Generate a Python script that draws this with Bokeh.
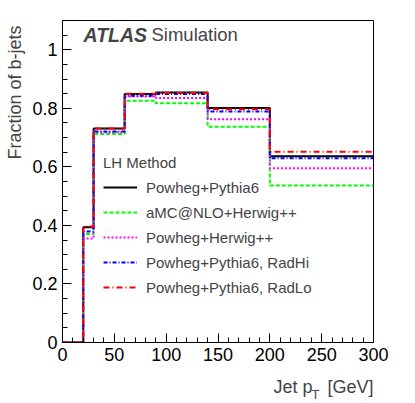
import math
from bokeh.plotting import figure
from bokeh.models import (Range1d, SingleIntervalTicker, CustomJSTickFormatter, Label,
                          Legend, LegendItem, ColumnDataSource)
from bokeh.embed import file_html
from bokeh.resources import INLINE

# ---- data ----
bin_edges = [0, 20, 30, 60, 90, 140, 200, 300]
powheg_pythia6 = [0.0, 0.394, 0.731, 0.849, 0.854, 0.801, 0.636]
amcnlo_herwig = [0.0, 0.371, 0.712, 0.826, 0.817, 0.737, 0.536]
powheg_herwig = [0.0, 0.355, 0.718, 0.840, 0.835, 0.763, 0.595]
powheg_radhi = [0.0, 0.379, 0.721, 0.843, 0.849, 0.789, 0.629]
powheg_radlo = [0.0, 0.396, 0.731, 0.850, 0.852, 0.797, 0.652]
series_names = ["Powheg+Pythia6", "aMC@NLO+Herwig++", "Powheg+Herwig++",
                "Powheg+Pythia6, RadHi", "Powheg+Pythia6, RadLo"]

FONT = "Liberation Sans"

p = figure(width=415, height=403, output_backend="svg", toolbar_location=None,
           x_range=Range1d(0, 300), y_range=Range1d(0, 1.1),
           min_border_left=62, min_border_right=42, min_border_top=20, min_border_bottom=61)
p.xgrid.visible = False
p.ygrid.visible = False
p.outline_line_color = "black"
p.outline_line_width = 1
p.background_fill_color = "white"
p.border_fill_color = "white"

p.xaxis.ticker = SingleIntervalTicker(interval=50, num_minor_ticks=5)
p.yaxis.ticker = SingleIntervalTicker(interval=0.2, num_minor_ticks=4)
p.yaxis.formatter = CustomJSTickFormatter(code="return (Math.round(tick*10)/10).toString();")
for ax in (p.xaxis, p.yaxis):
    ax.major_tick_in = 9
    ax.major_tick_out = 0
    ax.minor_tick_in = 5
    ax.minor_tick_out = 0
    ax.axis_line_color = "black"
    ax.major_tick_line_color = "black"
    ax.minor_tick_line_color = "black"
    ax.major_label_text_font = FONT
    ax.major_label_text_font_size = "18px"
    ax.major_label_text_color = "black"
    ax.major_label_standoff = 5

styles = [
    ("black", None),
    ("#00ff00", "4 2"),
    ("#ff00ff", "2 2"),
    ("#0000ff", "4 2 1 2"),
    ("#ff0000", "6 3 1 3"),
]
all_series = [powheg_pythia6, amcnlo_herwig, powheg_herwig, powheg_radhi, powheg_radlo]
items = []
for name, vals, (col, dash) in zip(series_names, all_series, styles):
    src = ColumnDataSource(dict(x=bin_edges, y=vals + [vals[-1]]))
    kw = dict(line_color=col, line_width=2)
    if dash:
        kw["line_dash"] = dash
    r = p.step("x", "y", source=src, mode="after", **kw)
    items.append(LegendItem(label=name, renderers=[r]))

legend = Legend(items=items, location=(41, 45), title="LH Method",
                title_text_font=FONT, title_text_font_size="15px", title_text_font_style="normal",
                title_standoff=6, label_text_font=FONT, label_text_font_size="15px",
                glyph_width=34, glyph_height=20, label_height=20, label_standoff=9,
                spacing=5, padding=0, margin=0, border_line_alpha=0,
                background_fill_alpha=0)
p.add_layout(legend)

# image-pixel -> data helpers for text placement
def dx(px):
    return (px - 62) / 311 * 300

def dy(py):
    return (342 - py) / 322 * 1.1

p.add_layout(Label(x=dx(83), y=dy(34), text="ATLAS", text_font=FONT, text_font_size="19.5px",
                   text_font_style="bold italic", text_baseline="alphabetic"))
p.add_layout(Label(x=dx(151), y=dy(34), text="Simulation", text_font=FONT,
                   text_font_size="18.5px", text_baseline="alphabetic"))

p.add_layout(Label(x=dx(4), y=dy(25), text="Fraction of b-jets", angle=math.pi / 2,
                   text_font=FONT, text_font_size="18px", text_align="right",
                   text_baseline="top"), "left")

nb = "\u00a0"
p.add_layout(Label(x=300, y=dy(386), text="Jet p" + nb * 3 + "[GeV]", text_font=FONT,
                   text_font_size="18px", text_align="right", text_baseline="alphabetic"),
             "below")
p.add_layout(Label(x=dx(311), y=dy(394), text="T", text_font=FONT,
                   text_font_size="13px", text_baseline="alphabetic"), "left")

open("out.html", "w").write(file_html(p, INLINE))
